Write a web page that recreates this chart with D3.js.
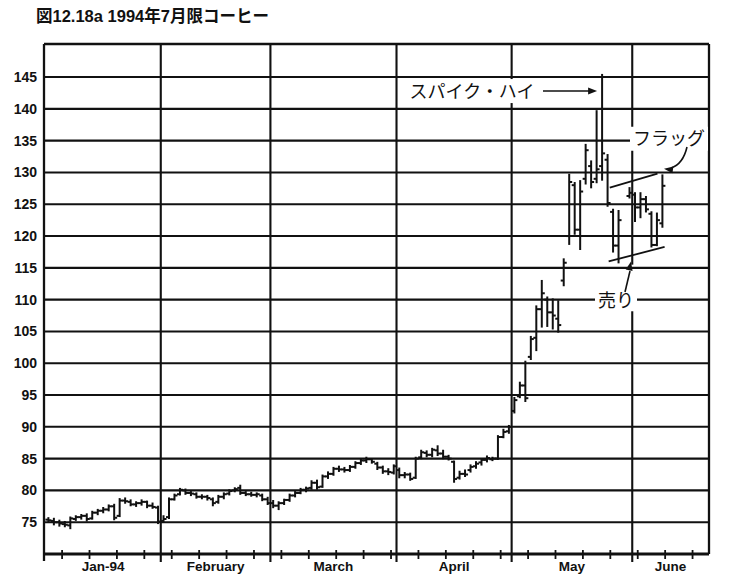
<!DOCTYPE html>
<html><head><meta charset="utf-8">
<script src="https://cdn.jsdelivr.net/npm/d3@7"></script>
<style>
html,body{margin:0;padding:0;background:#fff;}
svg{display:block;}
</style></head>
<body><svg id="c" width="730" height="585"></svg>
<script>
// ---------- data ----------
const title = "図12.18a 1994年7月限コーヒー";
const firstDay = "1994-01-03";
const lastDay = "1994-06-20";
const holidays = ["1994-05-30"];
const monthLabels = ["Jan-94", "February", "March", "April", "May", "June"];
const yTicks = [75, 80, 85, 90, 95, 100, 105, 110, 115, 120, 125, 130, 135, 140, 145];
const yDomain = [70, 150.2];

const opens = [
75.4,75.2,75.0,74.7,74.5,75.5,75.8,76.0,75.6,76.5,76.8,77.0,77.5,76.0,78.4,78.2,77.8,78.0,78.2,77.6,77.3,
75.2,75.8,78.6,79.4,80.0,79.6,79.4,79.0,79.0,78.6,78.2,79.0,79.5,80.0,80.4,79.6,79.4,79.3,79.2,78.6,
78.0,77.6,78.0,78.5,79.2,79.6,80.1,80.4,81.2,80.6,82.2,82.6,83.4,83.3,83.2,83.7,84.3,84.7,84.9,84.2,83.6,83.0,82.8,
83.2,82.4,82.5,82.0,85.2,85.9,85.6,86.3,85.8,85.3,84.5,82.0,82.6,83.2,83.8,84.4,84.8,84.9,85.0,88.4,89.3,
92.5,94.8,96.5,101.0,104.0,108.5,110.0,108.0,107.0,113.0,120.0,128.0,121.0,129.0,131.0,129.0,131.0,132.0,123.8,118.5,
126.3,126.5,124.5,125.8,123.5,118.6,122.0];
const highs = [
75.7,75.6,75.3,75.1,75.8,76.0,76.2,76.3,76.7,77.0,77.3,77.7,77.8,78.7,78.8,78.5,78.2,78.5,78.3,78.0,77.5,
76.0,78.8,79.4,80.3,80.2,79.8,79.6,79.3,79.2,78.8,79.2,79.6,80.1,80.4,80.8,79.8,79.7,79.6,79.4,78.9,
78.4,78.2,78.6,79.4,79.8,80.3,80.5,81.5,81.6,82.4,82.9,83.6,83.8,83.6,83.9,84.5,84.9,85.2,85.0,84.4,83.8,83.4,84.0,
83.5,82.8,82.7,85.2,86.3,86.2,86.6,87.0,86.3,85.5,84.6,83.0,83.2,84.0,84.5,85.0,85.4,85.2,88.6,89.6,90.2,
94.6,97.0,100.3,104.2,109.0,113.0,110.4,110.1,109.8,116.4,129.7,128.4,128.7,134.4,131.8,139.7,145.4,132.8,124.2,124.0,
127.6,126.8,126.8,126.2,123.8,123.6,129.6];
const lows = [
75.0,74.6,74.4,74.3,74.0,75.3,75.5,75.2,75.5,76.2,76.5,76.8,75.4,75.9,78.0,77.6,77.5,77.7,77.3,77.2,74.8,
75.0,75.6,78.5,79.3,79.4,79.2,78.8,78.7,78.5,77.6,78.0,78.7,79.3,79.8,79.4,79.2,79.1,79.0,78.4,77.8,
77.3,77.0,77.8,78.3,79.0,79.5,79.8,80.2,80.2,80.5,81.9,82.4,83.0,82.9,83.0,83.5,84.1,84.4,84.3,83.3,82.7,82.5,82.6,
82.0,82.0,81.6,81.9,85.0,85.3,85.3,85.5,85.0,84.8,81.3,81.8,82.2,82.9,83.5,84.0,84.5,84.7,84.9,88.3,89.0,
92.2,94.6,94.0,100.6,102.0,105.7,105.8,105.4,104.9,112.2,118.7,120.3,117.9,128.2,127.6,128.4,128.8,124.7,117.5,115.8,
126.0,122.3,122.9,123.8,118.3,118.5,121.4];
const closes = [
75.3,75.0,74.8,74.6,75.6,75.8,76.0,75.5,76.5,76.8,77.0,77.5,75.7,78.4,78.3,77.8,78.0,78.2,77.6,77.4,75.1,
75.5,78.6,79.2,80.1,79.6,79.5,79.0,79.0,78.8,78.0,79.0,79.4,79.9,80.2,79.6,79.4,79.3,79.4,78.6,78.0,
77.6,78.0,78.5,79.2,79.6,80.1,80.3,81.2,80.5,82.2,82.6,83.4,83.3,83.2,83.7,84.3,84.7,84.9,84.5,83.6,83.0,82.9,83.8,
82.4,82.5,81.8,85.0,86.0,85.6,86.4,85.8,85.3,85.0,81.8,82.6,82.5,83.7,84.2,84.8,85.1,85.0,88.4,89.2,90.0,
94.2,96.5,94.5,103.8,108.5,111.0,108.0,107.5,106.0,115.8,128.5,121.0,127.0,133.5,128.5,130.5,133.0,125.2,118.5,122.5,
126.8,124.5,125.8,124.2,118.6,122.5,127.9];

// annotations (weekday index, price)
const flagUpper = [[102.9, 127.6], [111.6, 129.8]];
const flagLower = [[102.7, 116.0], [112.9, 118.3]];

// ---------- build ----------
const parse = d3.timeParse("%Y-%m-%d");
const fmt = d3.timeFormat("%Y-%m-%d");
const weekdays = d3.timeDay.range(parse(firstDay), d3.timeDay.offset(parse(lastDay), 1))
  .filter(d => d.getDay() !== 0 && d.getDay() !== 6);
const tradingIdx = weekdays.map((d, i) => ({d, i})).filter(o => !holidays.includes(fmt(o.d))).map(o => o.i);
const bars = tradingIdx.slice(0, opens.length).map((w, k) => ({w, o: opens[k], h: highs[k], l: lows[k], c: closes[k]}));

const svg = d3.select("#c");
const L = 44, R = 709, T = 44, B = 554;
const x = d3.scaleLinear().domain([-0.3, weekdays.length]).range([L, R]);
const y = d3.scaleLinear().domain(yDomain).range([B, T]);

// month boundaries
const monthStarts = [];
weekdays.forEach((d, i) => { if (i === 0 || d.getMonth() !== weekdays[i - 1].getMonth()) monthStarts.push(i); });
const monthSpans = monthStarts.map((s, k) => [s, k + 1 < monthStarts.length ? monthStarts[k + 1] : weekdays.length]);

const ink = "#111";

// vertical month lines
const vLines = svg.append("g");
monthStarts.slice(1).forEach(s => {
  vLines.append("line").attr("x1", x(s)).attr("x2", x(s)).attr("y1", T).attr("y2", B + 8)
    .attr("stroke", ink).attr("stroke-width", 2.1);
});
vLines.append("line").attr("x1", L).attr("x2", L).attr("y1", T).attr("y2", B + 7)
  .attr("stroke", ink).attr("stroke-width", 2.3);
vLines.append("line").attr("x1", R).attr("x2", R).attr("y1", T).attr("y2", B)
  .attr("stroke", ink).attr("stroke-width", 2.3);

// mask where arrow of 売り passes month line
svg.append("rect").attr("x", x(monthStarts[5]) - 3).attr("y", y(115.5)).attr("width", 6).attr("height", y(110) - y(115.5))
  .attr("fill", "#fff");

// horizontal gridlines
svg.append("g").selectAll("line").data(yTicks).join("line")
  .attr("x1", L).attr("x2", R).attr("y1", d => y(d)).attr("y2", d => y(d))
  .attr("stroke", ink).attr("stroke-width", 2.1);
svg.append("line").attr("x1", L).attr("x2", R).attr("y1", T).attr("y2", T).attr("stroke", ink).attr("stroke-width", 2.3);
svg.append("line").attr("x1", L).attr("x2", R).attr("y1", B).attr("y2", B).attr("stroke", ink).attr("stroke-width", 2.8);

// weekly ticks
const weekTicks = d3.range(3, weekdays.length, 5);
svg.append("g").selectAll("line").data(weekTicks).join("line")
  .attr("x1", d => x(d)).attr("x2", d => x(d)).attr("y1", B - 4).attr("y2", B + 5)
  .attr("stroke", ink).attr("stroke-width", 1.8);

// y labels
svg.append("g").selectAll("text").data(yTicks).join("text")
  .attr("x", 37).attr("y", d => y(d)).attr("dy", "0.36em").attr("text-anchor", "end")
  .attr("font-family", "Liberation Sans, Arial, sans-serif").attr("font-weight", "bold").attr("font-size", 14)
  .attr("fill", ink).text(d => d);

// x labels
svg.append("g").selectAll("text").data(monthSpans).join("text")
  .attr("x", d => x((d[0] + d[1]) / 2)).attr("y", 571).attr("text-anchor", "middle")
  .attr("font-family", "Liberation Sans, Arial, sans-serif").attr("font-weight", "bold").attr("font-size", 13.5)
  .attr("fill", ink).text((d, i) => monthLabels[i]);

// title
svg.append("text").attr("x", 36).attr("y", 22)
  .attr("font-family", "Liberation Sans, Arial, 'Noto Sans CJK JP', sans-serif").attr("font-weight", "bold")
  .attr("font-size", 16.5).attr("fill", ink).text(title);

// OHLC bars
const g = svg.append("g").attr("stroke", ink).attr("stroke-width", 2);
bars.forEach(b => {
  const cx = x(b.w + 0.5);
  g.append("line").attr("x1", cx).attr("x2", cx).attr("y1", y(b.h) - 0.6).attr("y2", y(b.l) + 0.6);
  g.append("line").attr("x1", cx - 3).attr("x2", cx).attr("y1", y(b.o)).attr("y2", y(b.o));
  g.append("line").attr("x1", cx).attr("x2", cx + 3).attr("y1", y(b.c)).attr("y2", y(b.c));
});

// flag lines
[flagUpper, flagLower].forEach(p => {
  svg.append("line").attr("x1", x(p[0][0])).attr("y1", y(p[0][1])).attr("x2", x(p[1][0])).attr("y2", y(p[1][1]))
    .attr("stroke", ink).attr("stroke-width", 1.8);
});

// annotations
const jp = "'Noto Sans CJK JP', sans-serif";
function label(txt, cx, cy, w, h) {
  svg.append("rect").attr("x", cx - w / 2).attr("y", cy - h / 2).attr("width", w).attr("height", h).attr("fill", "#fff");
  svg.append("text").attr("x", cx).attr("y", cy).attr("dy", "0.36em").attr("text-anchor", "middle")
    .attr("font-family", jp).attr("font-size", 18).attr("fill", ink).text(txt);
}
const spikeBar = bars.reduce((a, b) => b.h > a.h ? b : a);
const spikeY = y(142.8);
label("スパイク・ハイ", 472, spikeY, 136, 24);
label("フラッグ", 669, y(135.3), 78, 24);
label("売り", 616, y(109.9), 42, 22);

function arrowHead(tx, ty, ang) {
  const s = 9, w = 3.5;
  const a = ang * Math.PI / 180;
  const bx = tx - s * Math.cos(a), by = ty - s * Math.sin(a);
  const px = -Math.sin(a) * w, py = Math.cos(a) * w;
  svg.append("path").attr("d", `M${tx},${ty}L${bx + px},${by + py}L${bx - px},${by - py}Z`).attr("fill", ink);
}
const spikeTipX = x(spikeBar.w + 0.5) - 5;
svg.append("line").attr("x1", 543).attr("x2", spikeTipX - 6).attr("y1", spikeY).attr("y2", spikeY)
  .attr("stroke", ink).attr("stroke-width", 1.6);
arrowHead(spikeTipX, spikeY, 0);
svg.append("path").attr("d", `M687,${y(134)} Q683,${y(131.3)} 671,${y(130.7)}`)
  .attr("fill", "none").attr("stroke", ink).attr("stroke-width", 1.6);
arrowHead(664, y(130.6), 188);
svg.append("line").attr("x1", 625).attr("y1", y(111.2)).attr("x2", 630).attr("y2", y(115.6) + 7)
  .attr("stroke", ink).attr("stroke-width", 1.6);
arrowHead(631, y(116.0), -78);
</script>
</body></html>
